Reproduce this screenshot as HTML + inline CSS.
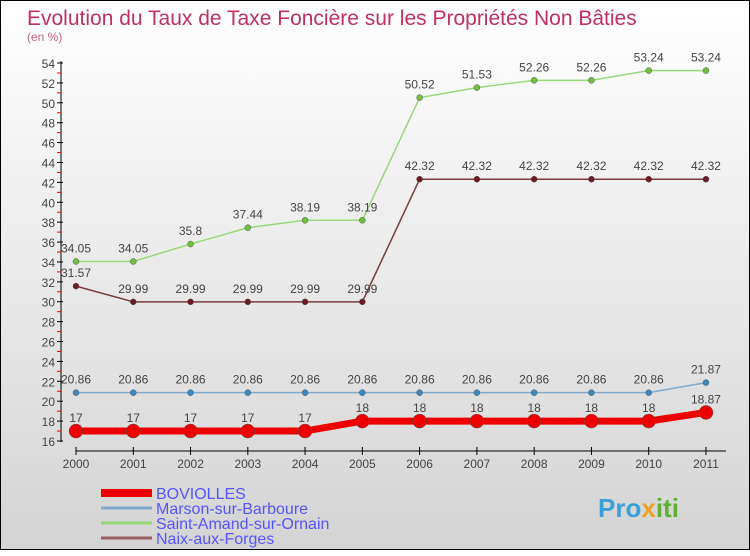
<!DOCTYPE html>
<html><head><meta charset="utf-8"><style>
body{margin:0;width:750px;height:550px;overflow:hidden;font-family:"Liberation Sans",sans-serif}
#c{position:absolute;left:0;top:0;width:748px;height:548px;border:1px solid #000;background:linear-gradient(#fff,#d4d4d4)}
</style></head><body>
<div id="c">
<svg id="s" width="750" height="550">
<text x="26" y="24" font-size="21" fill="#c03060">Evolution du Taux de Taxe Foncière sur les Propriétés Non Bâties</text>
<text x="26" y="40" font-size="12" fill="#c06080">(en %)</text>
<g id="g"></g>
<text x="597" y="516" font-size="26" font-weight="bold" fill="#3aa0d8">Pro<tspan fill="#f0a020">x</tspan><tspan fill="#60b030">iti</tspan></text>
</svg></div>
<script>
const years=["2000","2001","2002","2003","2004","2005","2006","2007","2008","2009","2010","2011"];
const boviolles=[17,17,17,17,17,18,18,18,18,18,18,18.87];
const marson=[20.86,20.86,20.86,20.86,20.86,20.86,20.86,20.86,20.86,20.86,20.86,21.87];
const saintAmand=[34.05,34.05,35.8,37.44,38.19,38.19,50.52,51.53,52.26,52.26,53.24,53.24];
const naix=[31.57,29.99,29.99,29.99,29.99,29.99,42.32,42.32,42.32,42.32,42.32,42.32];
const yTicks=[16,18,20,22,24,26,28,30,32,34,36,38,40,42,44,46,48,50,52,54];
const seriesNames=["BOVIOLLES","Marson-sur-Barboure","Saint-Amand-sur-Ornain","Naix-aux-Forges"];
const NS="http://www.w3.org/2000/svg",g=document.getElementById('g');
const X=i=>75+i*57.27, Y=v=>440-(v-16)*9.947;
function mk(t,a,p){const e=document.createElementNS(NS,t);for(const k in a)e.setAttribute(k,a[k]);(p||g).appendChild(e);return e;}
let ax=mk('line',{x1:60,y1:60,x2:60,y2:441,stroke:'#000'});


yTicks.forEach(v=>{mk('line',{x1:56,y1:Y(v),x2:62,y2:Y(v),stroke:'#000'});
 if(v<54)mk('line',{x1:56,y1:Y(v+1),x2:60,y2:Y(v+1),stroke:'#f00'});
 let t=mk('text',{x:54,y:Y(v)+5,'font-size':12,fill:'#444','text-anchor':'end'});t.textContent=v;
 
 });
let xa=mk('line',{x1:75,y1:450,x2:725,y2:450,stroke:'#000'});


years.forEach((y,i)=>{mk('line',{x1:X(i),y1:446,x2:X(i),y2:454,stroke:'#000'});
 let t=mk('text',{x:X(i),y:467,'font-size':12,fill:'#444','text-anchor':'middle'});t.textContent=y;
 
 });
function series(d,col,w,r,name,lab){
 let p=mk('polyline',{points:d.map((v,i)=>X(i)+','+Y(v)).join(' '),fill:'none',stroke:col,'stroke-width':w});
 
 
 d.forEach((v,i)=>{let c=mk('circle',{cx:X(i),cy:Y(v),r:r,fill:lab,stroke:'#555','stroke-width':0.5});
  
  
  let t=mk('text',{x:X(i),y:Y(v)-9,'font-size':12,fill:'#444','text-anchor':'middle'});t.textContent=v;
  
  });
}
series(naix,'#7a3a3a',1.5,3,'naix','#6a1a20');
series(saintAmand,'#98d878',1.5,3,'saint-amand','#70c040');
series(marson,'#80aacc',1.5,3,'marson','#3a88c0');
series(boviolles,'#ee0000',7,7,'boviolles','#ee0000');
const lc=['#ee0000','#80aacc','#98d878','#9a6060'],lw=[8,3,3,3];
seriesNames.forEach((n,i)=>{let yy=492+i*15;
 let l=mk('line',{x1:100,y1:yy,x2:151,y2:yy,stroke:lc[i],'stroke-width':lw[i]});
 
 
 let t=mk('text',{x:155,y:yy+6,'font-size':16,fill:'#5555ff'});t.textContent=n;
 
 });
</script></body></html>
